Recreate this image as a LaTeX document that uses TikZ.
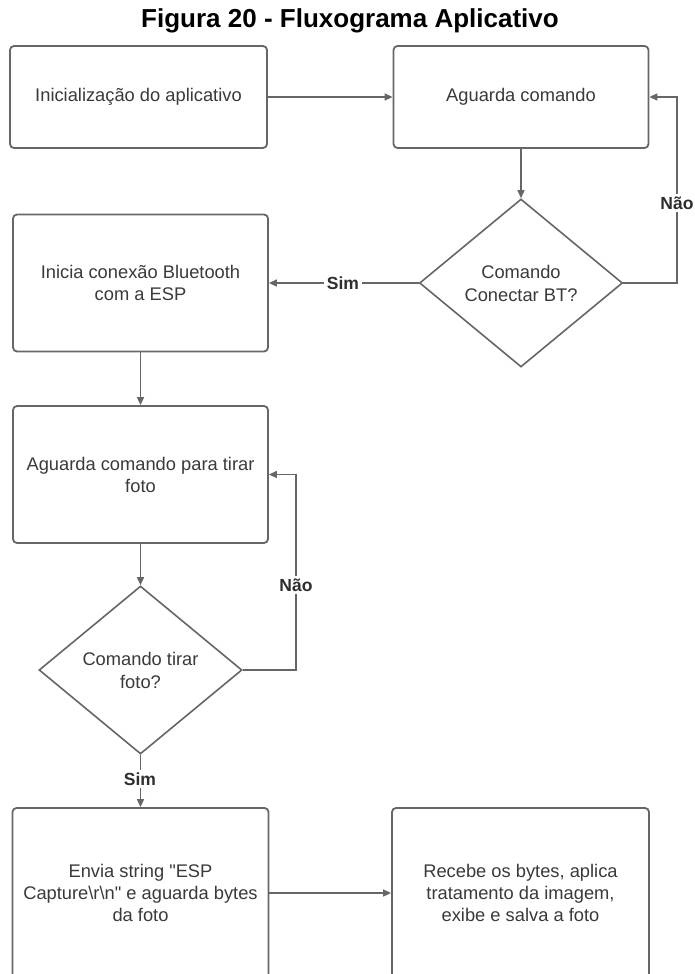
\documentclass[tikz,border=0pt]{standalone}
\usepackage{fontspec}
\setmainfont{Liberation Sans}
% same face without the TeX quote mapping, for a straight double quote
\newfontfamily\rawfont{Liberation Sans}
\usetikzlibrary{shapes.geometric,arrows.meta}
\definecolor{edge}{HTML}{666666}
\definecolor{boxtext}{HTML}{3A3A3A}
\definecolor{lbl}{HTML}{2E2E2E}
\newcommand{\dq}{{\rawfont\char34}}
\begin{document}
\begin{tikzpicture}[x=1pt,y=-1pt,
  proc/.style={draw=edge, line width=1.8pt, rounded corners=4pt, fill=white,
    inner sep=0pt, text=boxtext, align=center,
    font=\fontsize{18.3}{22}\selectfont},
  decision/.style={diamond, draw=edge, line width=1.6pt, fill=white,
    inner sep=0pt, minimum width=203pt, minimum height=168pt,
    text=boxtext, align=center, font=\fontsize{18.3}{23}\selectfont},
  flow/.style={draw=edge, line width=1.5pt, -{Triangle[length=8pt,width=7pt]}},
  tag/.style={fill=white, inner sep=2.5pt, text=lbl,
    font=\bfseries\fontsize{17.5}{20}\selectfont}]

\clip (0,0) rectangle (694,974);
\fill[white] (0,0) rectangle (694,974);

% title
\node[font=\bfseries\fontsize{26}{30}\selectfont, anchor=base] (title) at (350,28)
  {Figura 20 - Fluxograma Aplicativo};

% process boxes and decisions
\node[proc, minimum width=257pt, minimum height=102pt] (init) at (138.5,97)
  {Inicialização do aplicativo};
\node[proc, minimum width=255pt, minimum height=102pt] (wait) at (521,97)
  {Aguarda comando};
\node[decision] (askbt) at (521,283) {Comando\\Conectar BT?};
\node[proc, minimum width=255pt, minimum height=137pt] (bt) at (140.5,283)
  {Inicia conexão Bluetooth\\com a ESP};
\node[proc, minimum width=255pt, minimum height=137pt] (waitphoto) at (140.5,474.5)
  {Aguarda comando para tirar\\foto};
\node[decision] (askphoto) at (140.5,670) {Comando tirar\\foto?};
\node[proc, minimum width=256pt, minimum height=170pt] (send) at (140.5,893)
  {Envia string \dq ESP\\Capture\textbackslash r\textbackslash n\dq\ e aguarda bytes\\da foto};
\node[proc, minimum width=257pt, minimum height=170pt] (recv) at (520.5,893)
  {Recebe os bytes, aplica\\tratamento da imagem,\\exibe e salva a foto};

% loop corners
\coordinate (loopA) at (677,97);
\coordinate (loopB) at (296,474.5);

% connectors
\draw[flow] (init) -- (wait);
\draw[flow] (wait) -- (askbt);
\draw[flow] (askbt.east) -| (loopA) -- (wait.east);
\draw[flow] (askbt.west) -- (bt.east);
\draw[flow] (bt) -- (waitphoto);
\draw[flow] (waitphoto) -- (askphoto);
\draw[flow] (askphoto.east) -| (loopB) -- (waitphoto.east);
\draw[flow] (askphoto.south) -- (send.north);
\draw[flow] (send.east) -- (recv.west);

% branch labels
\node[tag] (noA) at (677,203) {Não};
\node[tag] (yesA) at (343,283) {Sim};
\node[tag] (noB) at (296,585) {Não};
\node[tag] (yesB) at (140,779) {Sim};
\end{tikzpicture}
\end{document}
